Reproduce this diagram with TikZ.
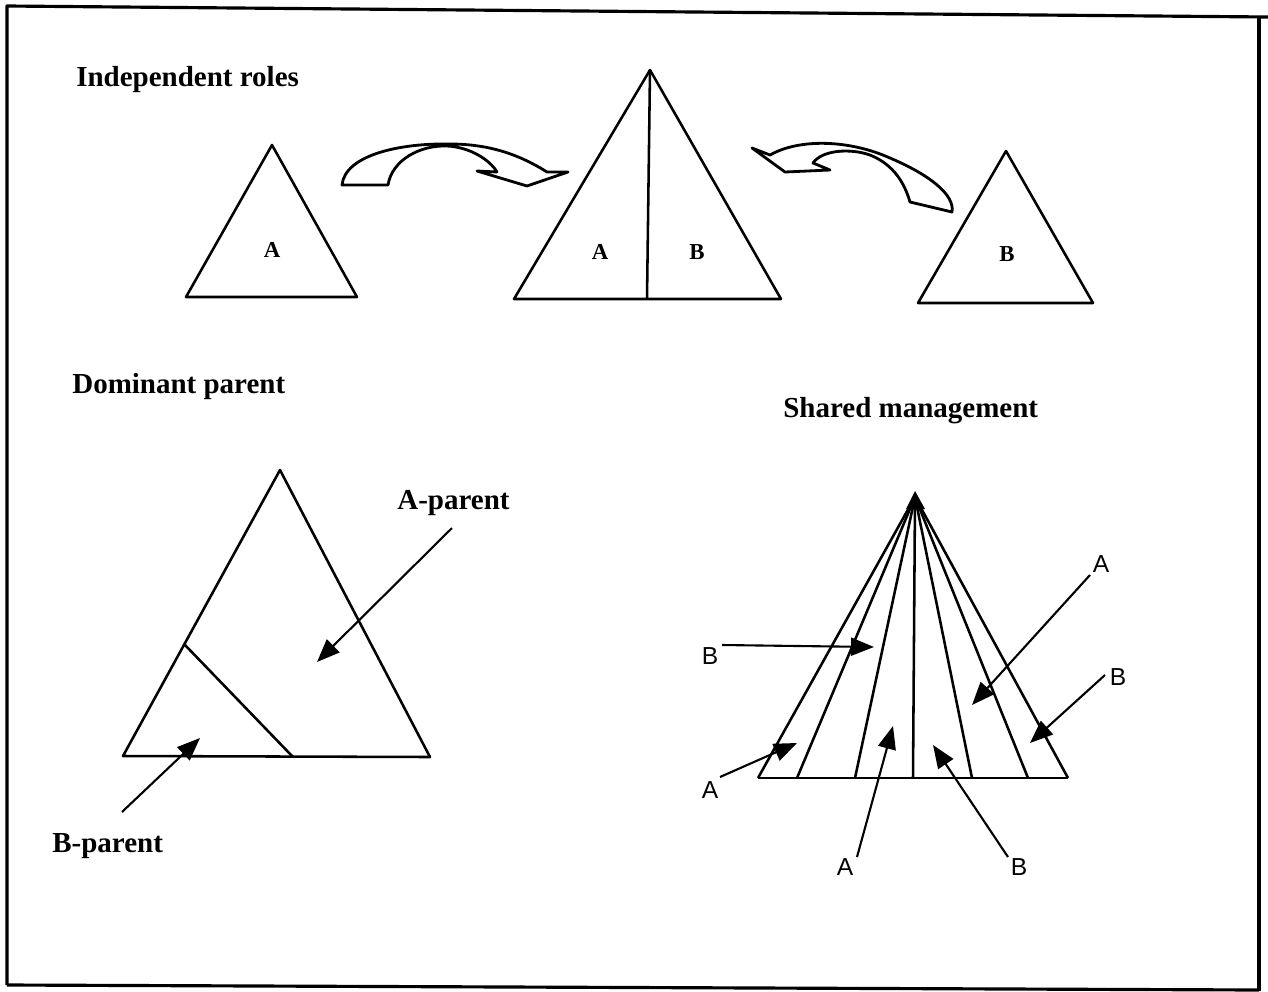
\documentclass[tikz,border=0pt]{standalone}
\usepackage{fontspec}
\setmainfont{Liberation Serif}
\newfontfamily\lsans{Liberation Sans}
\usetikzlibrary{arrows.meta}
\begin{document}
\begin{tikzpicture}[x=0.02cm,y=-0.02cm,
  line join=round,
  frameline/.style={line width=1.8pt},
  tri/.style={line width=1.45pt},
  blockarrow/.style={line width=1.6pt, fill=white},
  ptr/.style={line width=1.2pt, -{Triangle[length=0.46cm,width=0.36cm]}},
  heading/.style={font=\fontsize{16.5}{18}\selectfont\bfseries, inner sep=0pt, anchor=base west},
  trilabel/.style={font=\fontsize{13}{15}\selectfont\bfseries, inner sep=0pt},
  sharelabel/.style={font=\lsans\fontsize{14}{16}\selectfont, inner sep=0pt}]
\useasboundingbox (0,0) rectangle (1268,991);
% frame
\draw[frameline] (7,985) -- (7,6) -- (1268,17);
\draw[frameline] (1259,17) -- (1259,991);
\draw[frameline] (7,985) -- (1259,990);

% ---------- Independent roles ----------
\node[heading] (t1) at (76,86) {Independent roles};
\draw[tri] (186,297) -- (272,145) -- (357,297) -- cycle;
\node[trilabel] (la) at (272,250) {A};
\draw[tri] (514,299) -- (650,70) -- (781,299) -- cycle;
\draw[tri] (650,70) -- (647,299);
\node[trilabel] (lab1) at (600,252) {A};
\node[trilabel] (lab2) at (697,252) {B};
\draw[tri] (918,303) -- (1006,151) -- (1093,303) -- cycle;
\node[trilabel] (lb) at (1007,254) {B};

% block arrow left
\draw[blockarrow] (342,185) -- (388,185)
  .. controls (392,160) and (420,145) .. (447,146)
  .. controls (470,147) and (490,160) .. (497,172)
  -- (477,171) -- (527,186) -- (568,172) -- (547,172)
  .. controls (520,155) and (490,144) .. (450,144)
  .. controls (400,143) and (345,155) .. (342,185) -- cycle;
% block arrow right
\draw[blockarrow] (752,148) -- (770,155)
  .. controls (800,138) and (850,140) .. (890,158)
  .. controls (930,175) and (955,195) .. (952,212)
  -- (910,202)
  .. controls (905,185) and (895,165) .. (870,155)
  .. controls (850,148) and (822,150) .. (813,163)
  -- (830,170) -- (785,172) -- cycle;

% ---------- Dominant parent ----------
\node[heading] (t2) at (72,393) {Dominant parent};
\draw[tri] (123,756) -- (280,470) -- (430,757) -- cycle;
\draw[tri] (185,645) -- (293,757);
\node[heading] (ap) at (397,509) {A-parent};
\node[heading] (bp) at (52,852) {B-parent};
\coordinate (apt) at (317,662);
\coordinate (apf) at (452,528);
\coordinate (bpt) at (200,738);
\coordinate (bpf) at (122,812);
\draw[ptr] (apf) -- (apt);
\draw[ptr] (bpf) -- (bpt);

% ---------- Shared management ----------
\node[heading] (t3) at (783,417) {Shared management};
\coordinate (apex) at (915,497);
\draw[tri] (758,778) -- (1068,778);
\foreach \bx in {758,797,855,1028,1068}
  \draw[tri] (apex) -- (\bx,778);
\draw[tri] (apex) -- (913,778);
\draw[tri] (apex) -- (972,778);
\fill (915,491) -- (906,509) -- (925,509) -- cycle;

\node[sharelabel] (s1) at (710,656) {B};
\node[sharelabel] (s2) at (1101,564) {A};
\node[sharelabel] (s3) at (1118,677) {B};
\node[sharelabel] (s4) at (710,790) {A};
\node[sharelabel] (s5) at (845,867) {A};
\node[sharelabel] (s6) at (1019,867) {B};
\coordinate (p1) at (874,647);
\coordinate (p2) at (972,705);
\coordinate (p3) at (1030,743);
\coordinate (p4) at (797,743);
\coordinate (p5) at (893,726);
\coordinate (p6) at (933,745);
\draw[ptr] (722,645) -- (p1);
\draw[ptr] (1090,575) -- (p2);
\draw[ptr] (1105,675) -- (p3);
\draw[ptr] (720,777) -- (p4);
\draw[ptr] (857,857) -- (p5);
\draw[ptr] (1008,857) -- (p6);
\end{tikzpicture}
\end{document}
